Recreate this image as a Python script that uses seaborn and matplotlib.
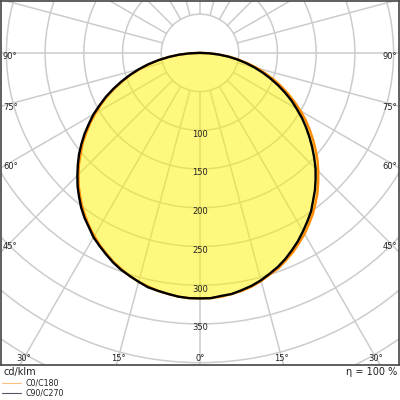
import numpy as np
import pandas as pd
import matplotlib
matplotlib.use("Agg")
import matplotlib.pyplot as plt
import seaborn as sns
from matplotlib.patches import Circle
from matplotlib.lines import Line2D

# gamma angles (deg) in 2.5 deg steps, negative = left half of the diagram
angles = [a / 2 for a in range(-180, 181, 5)]

# luminous intensity in cd/klm
c0_c180 = [0, 14, 27, 41, 54, 67, 80, 94, 106, 119, 132, 144, 156, 168, 179, 191, 201, 212, 222,
           232, 241, 250, 258, 266, 273, 280, 286, 292, 297, 302, 306, 309, 312, 314, 316, 317,
           317,
           317, 316, 314, 312, 309, 305, 300, 296, 290, 284, 277, 270, 262, 254, 245, 236, 226,
           216, 206, 195, 184, 173, 162, 150, 138, 126, 114, 102, 89, 77, 64, 51, 39, 26, 13, 0]
c90_c270 = [0, 14, 28, 41, 55, 69, 82, 95, 108, 121, 134, 146, 159, 170, 182, 193, 204, 214, 224,
            234, 243, 252, 260, 267, 275, 281, 287, 293, 298, 302, 306, 310, 312, 314, 316, 317,
            317,
            317, 315, 314, 311, 308, 304, 299, 294, 288, 281, 274, 266, 258, 250, 240, 231, 221,
            211, 200, 189, 178, 167, 156, 144, 133, 121, 109, 97, 85, 73, 61, 49, 37, 24, 12, 0]

grid_radii = [50, 100, 150, 200, 250, 300, 350, 400, 450, 500]
radial_labels = [100, 150, 200, 250, 300, 350]
side_angles = [45, 60, 75, 90]
bottom_angles = [0, 15, 30]

text_col = "#222222"

def to_xy(ang, val):
    t = np.radians(np.asarray(ang, dtype=float))
    v = np.asarray(val, dtype=float)
    return v * np.sin(t), -v * np.cos(t)

sns.set_theme(style="white")
plt.rcParams['font.family'] = ['DejaVu Sans']

fig = plt.figure(figsize=(4, 4), dpi=100)
ax = fig.add_axes([0.0025, 0.0875, 0.995, 0.91])

# polar grid
for r in grid_radii:
    ax.add_patch(Circle((0, 0), r, fill=False, ec="#cccccc", lw=1.1, zorder=1))
for a in range(0, 360, 15):
    t = np.radians(a)
    ax.plot([50 * np.sin(t), 600 * np.sin(t)], [-50 * np.cos(t), -600 * np.cos(t)],
            color="#cccccc", lw=1.1, zorder=1)

# curves
rows = []
for name, vals in [("C0/C180", c0_c180), ("C90/C270", c90_c270)]:
    x, y = to_xy(angles, vals)
    for i in range(len(angles)):
        rows.append({"curve": name, "x": x[i], "y": y[i]})
df = pd.DataFrame(rows)

xo, yo = to_xy(angles, c0_c180)
ax.fill(xo, yo, color="#fff200", alpha=0.5, lw=0, zorder=2)

sns.lineplot(data=df, x="x", y="y", hue="curve", palette={"C0/C180": "#ff8c00", "C90/C270": "black"},
             sort=False, estimator=None, lw=1.7, legend=False, ax=ax, zorder=3)

# labels
for r in radial_labels:
    ax.text(0, -r - 5, str(r), ha="center", va="center", fontsize=6, color=text_col, zorder=4)

for a in side_angles:
    yy = -245 / np.tan(np.radians(a)) - 5
    ax.text(-245, yy, f"{a}°", ha="center", va="center", fontsize=6, color=text_col)
    ax.text(245, yy, f"{a}°", ha="center", va="center", fontsize=6, color=text_col)
for a in bottom_angles:
    xx = 394 * np.tan(np.radians(a))
    ax.text(-xx, -394, f"{a}°", ha="center", va="center", fontsize=6, color=text_col)
    if a:
        ax.text(xx, -394, f"{a}°", ha="center", va="center", fontsize=6, color=text_col)

ax.set_xlim(-257, 257)
ax.set_ylim(-403, 67)
ax.set_xticks([])
ax.set_yticks([])
ax.set_xlabel("")
ax.set_ylabel("")
for s in ax.spines.values():
    s.set_color("#444444")
    s.set_linewidth(1.2)

fig.text(0.01, 1 - 372 / 400, "cd/klm", ha="left", va="center", fontsize=7, color=text_col)
fig.text(0.993, 1 - 372 / 400, "η = 100 %", ha="right", va="center", fontsize=7, color=text_col)

handles = [Line2D([], [], color="#ffc080", lw=0.8), Line2D([], [], color="#555a66", lw=0.8)]
fig.legend(handles, ["C0/C180", "C90/C270"], loc="lower left", bbox_to_anchor=(0.0, 0.0),
           frameon=False, fontsize=5.7, handlelength=2.3, handletextpad=0.6,
           labelspacing=0.1, borderpad=0.2, borderaxespad=0.1, labelcolor=text_col)

fig.savefig("out.png", dpi=100)
